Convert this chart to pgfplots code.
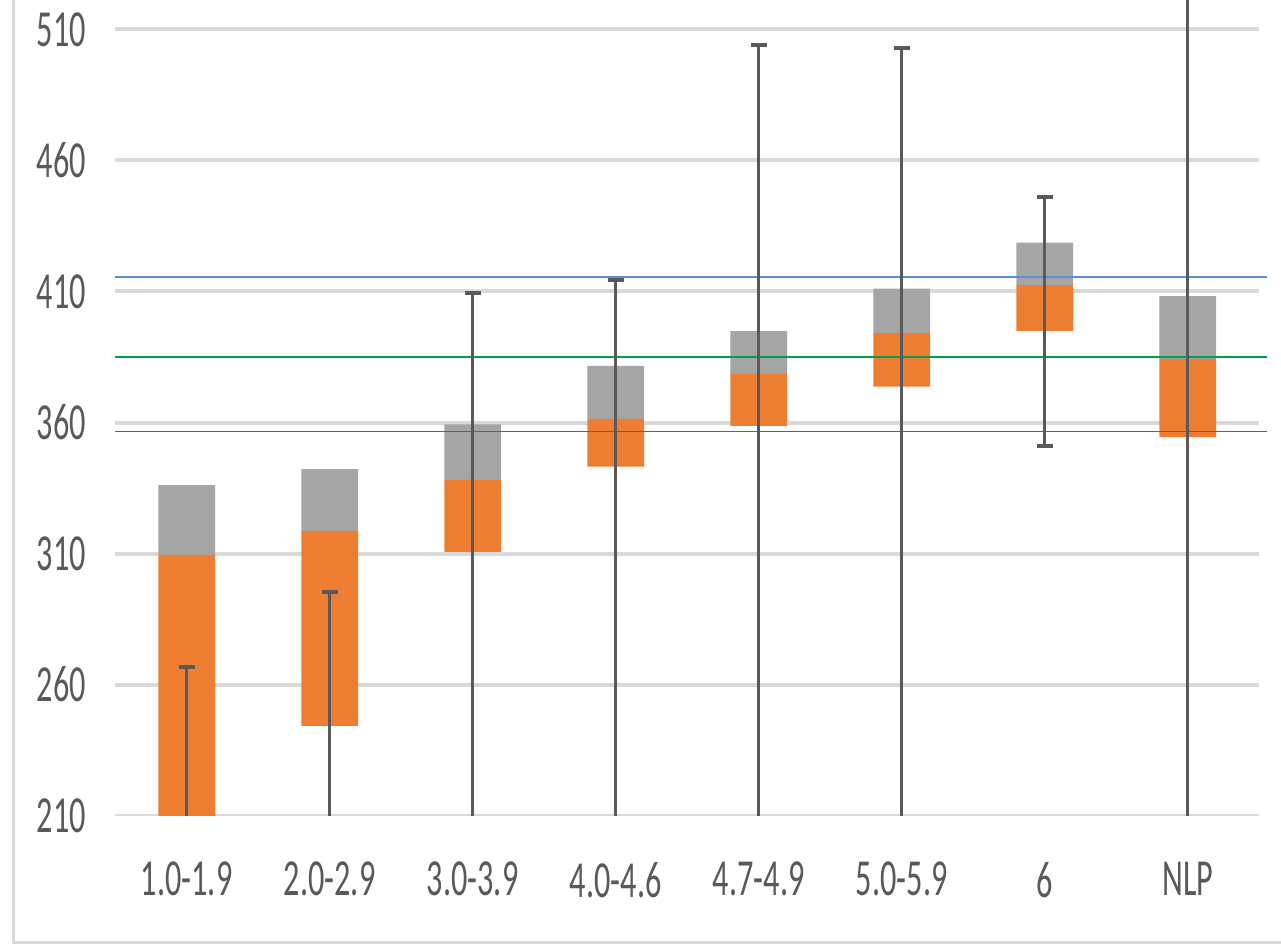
\documentclass[border=0pt]{standalone}
\usepackage{pgfplots}
\pgfplotsset{compat=1.18}
\usepackage{pgfplotstable}
\usepackage{fontspec}
\setmainfont{Carlito}

\definecolor{barorange}{HTML}{ED7D31}
\definecolor{bargray}{HTML}{A5A5A5}
\definecolor{errgray}{HTML}{595959}
\definecolor{gridgray}{HTML}{D9D9D9}
\definecolor{labelgray}{HTML}{595959}
\definecolor{refblue}{HTML}{5B8FD5}
\definecolor{refgreen}{HTML}{00A04A}
\definecolor{refline}{rgb}{1,0.12,0.12}

% floating bars: bottom of orange, top of orange (= bottom of grey), top of grey
\pgfplotstableread{
x bottom mid top
0 200.0 309.5 336.1
1 244.3 318.7 342.2
2 310.6 338.1 359.3
3 343.2 361.4 381.6
4 358.7 378.6 394.9
5 373.7 394.1 411.1
6 395.0 412.4 428.6
7 354.4 384.2 408.2
}\bars

% error bars: low and high ends
\pgfplotstableread{
x lo hi
0 150.0 266.8
1 150.0 295.2
2 150.0 409.3
3 150.0 414.4
4 150.0 504.0
5 150.0 503.0
6 351.2 445.9
7 150.0 560.0
}\errs

\pgfplotsset{
  common/.style={
    at={(0pt,0pt)}, anchor=south west,
    scale only axis, width=575.9pt, height=407.85pt,
    xmin=-0.5, xmax=7.554, ymin=210, ymax=521.2,
    clip=true,
  },
}

\begin{document}
\begin{tikzpicture}
% chart frame
\draw[gridgray, line width=1.5pt] (-50.85pt,500pt) |- (700pt,-63.5pt);

% axis with tick labels and grid lines
\begin{axis}[
  common,
  axis line style={draw=none},
  major tick length=0pt,
  xtick={0,...,7},
  xticklabels={1.0-1.9,2.0-2.9,3.0-3.9,4.0-4.6,4.7-4.9,5.0-5.9,6,NLP},
  ytick={210,260,...,510},
  /pgf/number format/assume math mode=true,
  ticklabel style={font=\fontsize{26}{30}\selectfont, text=labelgray},
  yticklabel style={anchor=east, inner sep=0pt, xshift=-14.6pt, xscale=0.62},
  xticklabel style={anchor=north, inner sep=0pt, yshift=-23pt, xscale=0.62},
]
\foreach \v in {210,260,...,510} {
  \edef\tmp{\noexpand\draw[gridgray, line width=2pt] (axis cs:-0.5,\v) -- (axis cs:7.5,\v);}
  \tmp
}
\end{axis}

% floating stacked bars
\begin{axis}[common, hide axis, ybar stacked, bar width=28.3pt]
\addplot[draw=none, fill=none] table[x=x, y=bottom] {\bars};
\addplot[draw=none, fill=barorange] table[x=x, y expr=\thisrow{mid}-\thisrow{bottom}] {\bars};
\addplot[draw=none, fill=bargray] table[x=x, y expr=\thisrow{top}-\thisrow{mid}] {\bars};
\end{axis}

% error bars and reference lines
\begin{axis}[common, hide axis]
\addplot[color=refline, line width=0.8pt, mark=none] coordinates {(-0.5,356.5) (7.554,356.5)};
\addplot[color=refgreen, line width=0.8pt, mark=none] coordinates {(-0.5,384.9) (7.554,384.9)};
\addplot[color=refblue, line width=0.8pt, mark=none] coordinates {(-0.5,415.4) (7.554,415.4)};
\addplot[draw=none, mark=none,
  error bars/.cd, y dir=both, y explicit,
  error bar style={line width=1.5pt, draw=errgray, solid},
  error mark options={rotate=90, line width=2pt, mark size=4pt, draw=errgray}]
  table[x=x, y expr=(\thisrow{lo}+\thisrow{hi})/2,
        y error expr=(\thisrow{hi}-\thisrow{lo})/2] {\errs};
\end{axis}

\pgfresetboundingbox
\path[use as bounding box] (-57.6pt,-64.65pt) rectangle (582.9pt,407.85pt);
\end{tikzpicture}
\end{document}
